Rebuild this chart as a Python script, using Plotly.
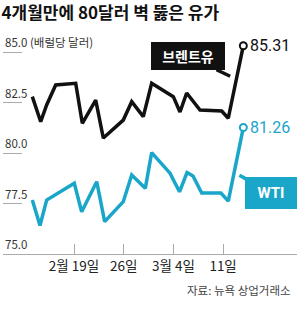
import plotly.graph_objects as go

# ---- data (x = days from Feb 19) ----
brent_x = [-5.87, -4.69, -3.85, -2.58, 0.24, 1.17, 3.06, 4.13, 6.94, 8.13, 9.76, 10.94, 13.99, 14.93, 15.87, 17.75, 20.8, 21.73, 23.85]
brent_y = [82.79, 81.55, 82.38, 83.37, 83.45, 81.47, 82.62, 80.74, 81.63, 82.54, 81.80, 83.45, 82.79, 82.03, 82.97, 82.13, 82.08, 81.72, 85.31]
wti_x = [-5.87, -4.79, -3.85, 0.04, 1.08, 3.2, 4.32, 6.94, 8.13, 10.04, 10.94, 13.52, 14.86, 15.92, 16.76, 17.99, 20.7, 21.73, 23.85]
wti_y = [77.67, 76.41, 77.67, 78.50, 77.09, 78.58, 76.60, 77.59, 78.91, 78.25, 80.02, 79.00, 78.08, 79.03, 78.86, 78.02, 78.02, 77.62, 81.26]

x_tickvals = [0, 7, 14, 21]
x_ticktext = ["2월 19일", "26일", "3월 4일", "11일"]
y_tickvals = [75, 77.5, 80, 82.5, 85]
y_ticktext = ["75.0", "77.5", "80.0", "82.5", "85.0 (배럴당 달러)"]

title = "4개월만에 80달러 벽 뚫은 유가"
source = "자료: 뉴욕 상업거래소"

BLACK = "#111111"
TEAL = "#1aa6c9"
FONT = "Noto Sans CJK KR"

fig = go.Figure()
fig.add_trace(go.Scatter(x=brent_x, y=brent_y, mode="lines",
                         line=dict(color=BLACK, width=3.5), hoverinfo="skip"))
fig.add_trace(go.Scatter(x=wti_x, y=wti_y, mode="lines",
                         line=dict(color=TEAL, width=3.5), hoverinfo="skip"))
# end markers
fig.add_trace(go.Scatter(x=[brent_x[-1]], y=[brent_y[-1]], mode="markers",
                         marker=dict(size=7, color="white", line=dict(color=BLACK, width=2)),
                         hoverinfo="skip"))
fig.add_trace(go.Scatter(x=[wti_x[-1]], y=[wti_y[-1]], mode="markers",
                         marker=dict(size=7, color="white", line=dict(color=TEAL, width=2)),
                         hoverinfo="skip"))

ann = []
# y-axis labels (sit above the short tick lines)
for v, t in zip(y_tickvals, y_ticktext):
    ann.append(dict(xref="paper", x=0, y=v, text=t, showarrow=False,
                    xanchor="left", yanchor="bottom", yshift=0,
                    font=dict(family=FONT, size=11.5, color="#333333")))
# end value labels
ann.append(dict(x=brent_x[-1], y=brent_y[-1], text=f"{brent_y[-1]:.2f}", showarrow=False,
                xanchor="left", xshift=5, yshift=0,
                font=dict(family="Roboto", size=16, color=BLACK)))
ann.append(dict(x=wti_x[-1], y=wti_y[-1], text=f"{wti_y[-1]:.2f}", showarrow=False,
                xanchor="left", xshift=5, yshift=0,
                font=dict(family="Roboto", size=16, color=TEAL)))
# series tag boxes
ann.append(dict(x=22.0, y=83.8, text="<b>브렌트유</b>", showarrow=True,
                ax=-42, ay=-20, arrowhead=0, arrowwidth=3.5, arrowcolor=BLACK,
                bgcolor=BLACK, bordercolor=BLACK, width=70, height=24,
                font=dict(family=FONT, size=14, color="white")))
ann.append(dict(x=23.3, y=78.9, text="<b>WTI</b>", showarrow=True,
                ax=32, ay=18, arrowhead=0, arrowwidth=3.5, arrowcolor=TEAL,
                bgcolor=TEAL, bordercolor=TEAL, width=48, height=28,
                font=dict(family="Roboto", size=15, color="white")))
# source
ann.append(dict(xref="paper", yref="paper", x=0.985, y=(314 - 290) / 314,
                text=source, showarrow=False, xanchor="right", yanchor="middle",
                font=dict(family=FONT, size=11.5, color="#444444")))

fig.update_layout(
    width=300, height=314,
    margin=dict(l=3, r=3, t=0, b=0),
    paper_bgcolor="white", plot_bgcolor="white",
    showlegend=False,
    title=dict(text=f"<b>{title}</b>", xref="container", yref="container",
               x=0.005, xanchor="left", y=1 - 13 / 314, yanchor="middle",
               font=dict(family=FONT, size=17, color="#111111")),
    annotations=ann,
    xaxis=dict(range=[-10.0, 31.41], anchor="free", position=(314 - 254) / 314,
               showgrid=False, zeroline=False,
               showline=True, linecolor="#aaaaaa", linewidth=1,
               ticks="inside", ticklen=10, tickcolor="#aaaaaa",
               tickvals=x_tickvals, ticktext=x_ticktext,
               tickfont=dict(family=FONT, size=13.5, color="#222222")),
    yaxis=dict(range=[72.03, 87.574], showgrid=False, zeroline=False, showline=False,
               ticks="inside", ticklen=19, tickcolor="#aaaaaa",
               tickvals=y_tickvals, showticklabels=False),
)

fig.write_html("out.html")
